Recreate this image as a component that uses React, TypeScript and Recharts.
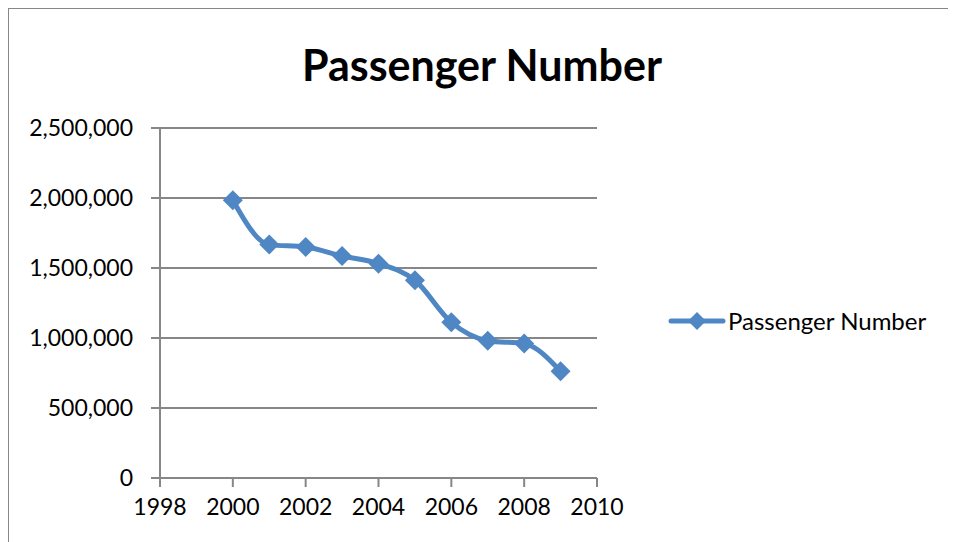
import React from "react";
import { LineChart, Line, XAxis, YAxis, CartesianGrid } from "recharts";

const years = [2000, 2001, 2002, 2003, 2004, 2005, 2006, 2007, 2008, 2009];
const passengers = [1984000, 1667000, 1650000, 1586000, 1531000, 1412000, 1112000, 981000, 960000, 762000];
const xTicks = [1998, 2000, 2002, 2004, 2006, 2008, 2010];
const yTicks = [0, 500000, 1000000, 1500000, 2000000, 2500000];

const data = years.map((year, i) => ({ year, value: passengers[i] }));

const BLUE = "#4F87C4";
const GREY = "#878787";
const FONT = "Lato, 'Open Sans', sans-serif";

const Diamond = (props: any) => {
  const { cx, cy, index } = props;
  const r = 10;
  return (
    <polygon
      key={`d-${index}`}
      points={`${cx},${cy - r} ${cx + r},${cy} ${cx},${cy + r} ${cx - r},${cy}`}
      fill={BLUE}
    />
  );
};

// legend drawn in html, the recharts Legend steals plot width when placed at the side
const LegendBox = () => (
  <div
    style={{
      position: "absolute",
      left: 659,
      top: 297,
      display: "flex",
      alignItems: "center",
      fontFamily: FONT,
      fontSize: 24,
      color: "#000",
      whiteSpace: "nowrap",
    }}
  >
    <svg width={58} height={20}>
      <line x1={3} y1={10} x2={55} y2={10} stroke={BLUE} strokeWidth={5} strokeLinecap="round" />
      <polygon points="29,1 38,10 29,19 20,10" fill={BLUE} />
    </svg>
    <span style={{ marginLeft: 2 }}>Passenger Number</span>
  </div>
);

export default function App() {
  return (
    <div
      style={{
        position: "relative",
        width: 946,
        height: 540,
        border: `1px solid ${GREY}`,
        borderBottom: "none",
        background: "#fff",
      }}
    >
      <div
        style={{
          position: "absolute",
          top: 31,
          left: 0,
          width: 946,
          textAlign: "center",
          fontFamily: FONT,
          fontWeight: 700,
          fontSize: 43,
          lineHeight: "50px",
          color: "#000",
        }}
      >
        Passenger Number
      </div>
      <LineChart
        width={946}
        height={533}
        data={data}
        margin={{ top: 119, right: 358, bottom: 4, left: 0 }}
      >
        <CartesianGrid horizontal vertical={false} stroke={GREY} strokeWidth={2} />
        <XAxis
          dataKey="year"
          type="number"
          domain={[1998, 2010]}
          ticks={xTicks}
          interval={0}
          height={60}
          tickSize={9}
          tickMargin={12}
          axisLine={{ stroke: GREY, strokeWidth: 2 }}
          tickLine={{ stroke: GREY, strokeWidth: 2 }}
          tick={{ fill: "#000", fontSize: 23, fontFamily: FONT }}
        />
        <YAxis
          type="number"
          domain={[0, 2500000]}
          ticks={yTicks}
          interval={0}
          width={151}
          tickSize={9}
          tickMargin={18}
          axisLine={{ stroke: GREY, strokeWidth: 2 }}
          tickLine={{ stroke: GREY, strokeWidth: 2 }}
          tick={{ fill: "#000", fontSize: 23, fontFamily: FONT }}
          tickFormatter={(v: number) => v.toLocaleString("en-US")}
        />
        <Line
          type="monotone"
          dataKey="value"
          name="Passenger Number"
          stroke={BLUE}
          strokeWidth={5}
          dot={<Diamond />}
          activeDot={false}
          isAnimationActive={false}
        />
      </LineChart>
      <LegendBox />
    </div>
  );
}
